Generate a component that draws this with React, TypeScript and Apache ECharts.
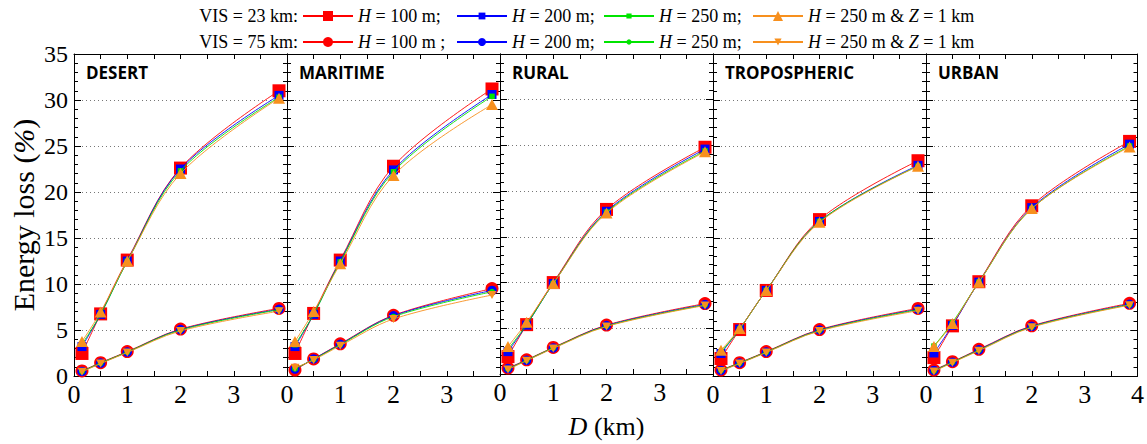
import React, { useEffect, useRef } from "react";
import * as echarts from "echarts";

// ---------- data ----------
const D_KM = [0.15, 0.5, 1, 2, 3.85];
const PANELS = ["DESERT", "MARITIME", "RURAL", "TROPOSPHERIC", "URBAN"];
const X_TICKS = [0, 1, 2, 3, 4];
const Y_TICKS = [0, 5, 10, 15, 20, 25, 30, 35];

// VIS = 23 km : [H=100, H=200, H=250, H=250 & Z=1]
const desertVis23 = [
  [2.45, 6.75, 12.6, 22.6, 31.0],
  [3.2, 6.7, 12.5, 22.5, 30.5],
  [3.45, 6.7, 12.45, 22.3, 30.3],
  [3.75, 6.95, 12.5, 22.0, 30.2],
];
const desertVis75 = [
  [0.55, 1.45, 2.65, 5.1, 7.35],
  [0.5, 1.4, 2.6, 5.05, 7.25],
  [0.5, 1.4, 2.6, 5.0, 7.2],
  [0.45, 1.35, 2.55, 4.9, 7.05],
];
const maritimeVis23 = [
  [2.45, 6.8, 12.6, 22.8, 31.2],
  [3.2, 6.7, 12.5, 22.4, 30.6],
  [3.4, 6.7, 12.4, 22.2, 30.4],
  [3.75, 7.0, 12.2, 21.8, 29.5],
];
const maritimeVis75 = [
  [0.65, 1.85, 3.5, 6.6, 9.5],
  [0.75, 1.85, 3.45, 6.55, 9.3],
  [0.8, 1.8, 3.4, 6.45, 9.15],
  [0.9, 1.75, 3.3, 6.2, 8.8],
];
const ruralVis23 = [
  [1.9, 5.4, 10.0, 18.0, 24.8],
  [2.45, 5.35, 9.9, 17.8, 24.6],
  [2.7, 5.4, 9.9, 17.7, 24.4],
  [3.0, 5.65, 9.9, 17.6, 24.3],
];
const ruralVis75 = [
  [0.65, 1.55, 2.9, 5.35, 7.7],
  [0.6, 1.5, 2.85, 5.3, 7.6],
  [0.55, 1.5, 2.85, 5.25, 7.55],
  [0.5, 1.45, 2.8, 5.2, 7.5],
];
const tropoVis23 = [
  [1.9, 5.05, 9.3, 17.0, 23.4],
  [2.45, 5.1, 9.3, 16.8, 22.9],
  [2.6, 5.1, 9.3, 16.8, 22.8],
  [2.8, 5.15, 9.3, 16.7, 22.8],
];
const tropoVis75 = [
  [0.65, 1.45, 2.65, 5.05, 7.35],
  [0.6, 1.4, 2.6, 5.0, 7.25],
  [0.6, 1.4, 2.6, 4.95, 7.2],
  [0.55, 1.35, 2.55, 4.9, 7.1],
];
const urbanVis23 = [
  [2.0, 5.45, 10.25, 18.5, 25.5],
  [2.5, 5.5, 10.2, 18.3, 25.2],
  [3.25, 5.8, 10.2, 18.2, 25.0],
  [3.2, 5.7, 10.2, 18.2, 24.9],
];
const urbanVis75 = [
  [0.65, 1.55, 2.9, 5.45, 7.9],
  [0.6, 1.5, 2.85, 5.4, 7.8],
  [0.55, 1.5, 2.8, 5.35, 7.75],
  [0.5, 1.45, 2.75, 5.3, 7.7],
];
const VIS23 = [desertVis23, maritimeVis23, ruralVis23, tropoVis23, urbanVis23];
const VIS75 = [desertVis75, maritimeVis75, ruralVis75, tropoVis75, urbanVis75];

const LABELS_23 = ["{i|H} = 100 m;", "{i|H} = 200 m;", "{i|H} = 250 m;", "{i|H} = 250 m & {i|Z} = 1 km"];
const LABELS_75 = ["{i|H} = 100 m ;", "{i|H} = 200 m;", "{i|H} = 250 m;", "{i|H} = 250 m & {i|Z} = 1 km"];
const KEYS_23 = ["a23", "b23", "c23", "d23"];
const KEYS_75 = ["a75", "b75", "c75", "d75"];

// ---------- styles ----------
const SERIF = "Liberation Serif";
const COLORS = ["#ff0000", "#0000ff", "#00e400", "#f7901e"];
const SYM23 = ["rect", "rect", "rect", "triangle"];
const SIZE23: any[] = [13, 9, 5.5, [12, 11]];
const SYM75 = ["circle", "circle", "circle", "triangle"];
const SIZE75: any[] = [13, 9.5, 6, [9, 8]];
const ROT75 = [0, 0, 0, 180];
const LEG_H23 = [12.5, 8.5, 6.5, 12.5];
const LEG_H75 = [12.5, 10, 6.5, 9];
const LEG_LEFT = [302, 456, 603, 752];
const GRID_LEFT0 = 74;
const GRID_W = 213;
const GRID_TOP = 54;
const GRID_H = 322;

export default function App() {
  const ref = useRef<HTMLDivElement>(null);
  useEffect(() => {
    document.body.style.margin = "0";
    const chart = echarts.init(ref.current!, undefined, { renderer: "svg" });

    const grids: any[] = [];
    const xAxes: any[] = [];
    const yAxes: any[] = [];
    const titles: any[] = [];
    const series: any[] = [];
    const black = { color: "#000", width: 1 };

    PANELS.forEach((p, i) => {
      const left = GRID_LEFT0 + GRID_W * i;
      grids.push({ left, top: GRID_TOP, width: GRID_W, height: GRID_H, show: false });
      titles.push({
        text: p,
        left: left + 12,
        top: 64,
        padding: 0,
        textStyle: { fontFamily: "Open Sans", fontWeight: "bold", fontSize: 17, color: "#000" },
      });
      const xBase = {
        gridIndex: i,
        type: "value",
        min: X_TICKS[0],
        max: X_TICKS[X_TICKS.length - 1],
        interval: 1,
        axisLine: { show: true, onZero: false, lineStyle: black },
        axisTick: { show: true, inside: true, length: 5, lineStyle: black },
        minorTick: { show: true, splitNumber: 2, length: 5, lineStyle: black },
        splitLine: { show: false },
      };
      xAxes.push({
        ...xBase,
        position: "bottom",
        axisLabel: {
          show: true,
          showMaxLabel: i === PANELS.length - 1,
          fontFamily: SERIF,
          fontSize: 26,
          color: "#000",
          margin: 5,
        },
        ...(i === 2
          ? {
              name: "{i|D} (km)",
              nameLocation: "middle",
              nameGap: 39,
              nameTextStyle: {
                fontFamily: SERIF,
                fontSize: 26,
                color: "#000",
                rich: { i: { fontFamily: SERIF, fontSize: 26, fontStyle: "italic", color: "#000" } },
              },
            }
          : {}),
      });
      xAxes.push({ ...xBase, position: "top", axisLabel: { show: false } });

      const yBase = {
        gridIndex: i,
        type: "value",
        min: Y_TICKS[0],
        max: Y_TICKS[Y_TICKS.length - 1],
        interval: 5,
        axisLine: { show: true, onZero: false, lineStyle: black },
        axisTick: { show: true, inside: true, length: 7, lineStyle: black },
        minorTick: { show: true, splitNumber: 5, length: 4, lineStyle: black },
      };
      yAxes.push({
        ...yBase,
        position: "left",
        splitLine: { show: true, lineStyle: { type: [1, 3], color: "#777", width: 1 } },
        axisLabel: { show: i === 0, fontFamily: SERIF, fontSize: 24, color: "#000", margin: 6 },
        ...(i === 0
          ? {
              name: "{t|Energy loss (}{i|%}{t|)}",
              nameLocation: "middle",
              nameGap: 36,
              nameRotate: 90,
              nameTextStyle: {
                rich: {
                  t: { fontFamily: SERIF, fontSize: 30, color: "#000" },
                  i: { fontFamily: SERIF, fontSize: 30, fontStyle: "italic", color: "#000" },
                },
              },
            }
          : {}),
      });
      yAxes.push({ ...yBase, position: "right", splitLine: { show: false }, axisLabel: { show: false } });

      const addSeries = (vals: number[][], keys: string[], syms: string[], sizes: any[], rots: number[] | null) => {
        vals.forEach((v, k) => {
          series.push({
            name: keys[k],
            type: "line",
            xAxisIndex: 2 * i,
            yAxisIndex: 2 * i,
            data: D_KM.map((d, j) => [d, v[j]]),
            smooth: 0.35,
            symbol: syms[k],
            symbolSize: sizes[k],
            symbolRotate: rots ? rots[k] : 0,
            showSymbol: true,
            lineStyle: { color: COLORS[k], width: 0.9 },
            itemStyle: { color: COLORS[k] },
            emphasis: { disabled: true },
            z: 2 + k,
          });
        });
      };
      addSeries(VIS75[i], KEYS_75, SYM75, SIZE75, ROT75);
      addSeries(VIS23[i], KEYS_23, SYM23, SIZE23, null);
    });

    const labelMap: Record<string, string> = {};
    KEYS_23.forEach((k, j) => (labelMap[k] = LABELS_23[j]));
    KEYS_75.forEach((k, j) => (labelMap[k] = LABELS_75[j]));

    const legends: any[] = [];
    const mkLegend = (key: string, h: number, left: number, cy: number) => ({
      data: [key],
      left,
      top: cy - 10,
      padding: 0,
      itemWidth: 50,
      itemHeight: h,
      itemGap: 5,
      selectedMode: false,
      formatter: (n: string) => labelMap[n],
      textStyle: {
        fontFamily: SERIF,
        fontSize: 18,
        color: "#000",
        rich: { i: { fontFamily: SERIF, fontSize: 18, fontStyle: "italic", color: "#000" } },
      },
    });
    KEYS_23.forEach((k, j) => legends.push(mkLegend(k, LEG_H23[j], LEG_LEFT[j], 17)));
    KEYS_75.forEach((k, j) => legends.push(mkLegend(k, LEG_H75[j], LEG_LEFT[j], 43)));

    chart.setOption({
      animation: false,
      backgroundColor: "#fff",
      title: titles,
      grid: grids,
      xAxis: xAxes,
      yAxis: yAxes,
      legend: legends,
      series,
      graphic: [
        {
          type: "text",
          right: 1147 - 298,
          top: 7,
          style: { text: "VIS = 23 km:", font: `18px "${SERIF}"`, fill: "#000" },
        },
        {
          type: "text",
          right: 1147 - 298,
          top: 33,
          style: { text: "VIS = 75 km:", font: `18px "${SERIF}"`, fill: "#000" },
        },
      ],
    });
    return () => chart.dispose();
  }, []);
  return <div ref={ref} style={{ width: 1147, height: 444 }} />;
}
